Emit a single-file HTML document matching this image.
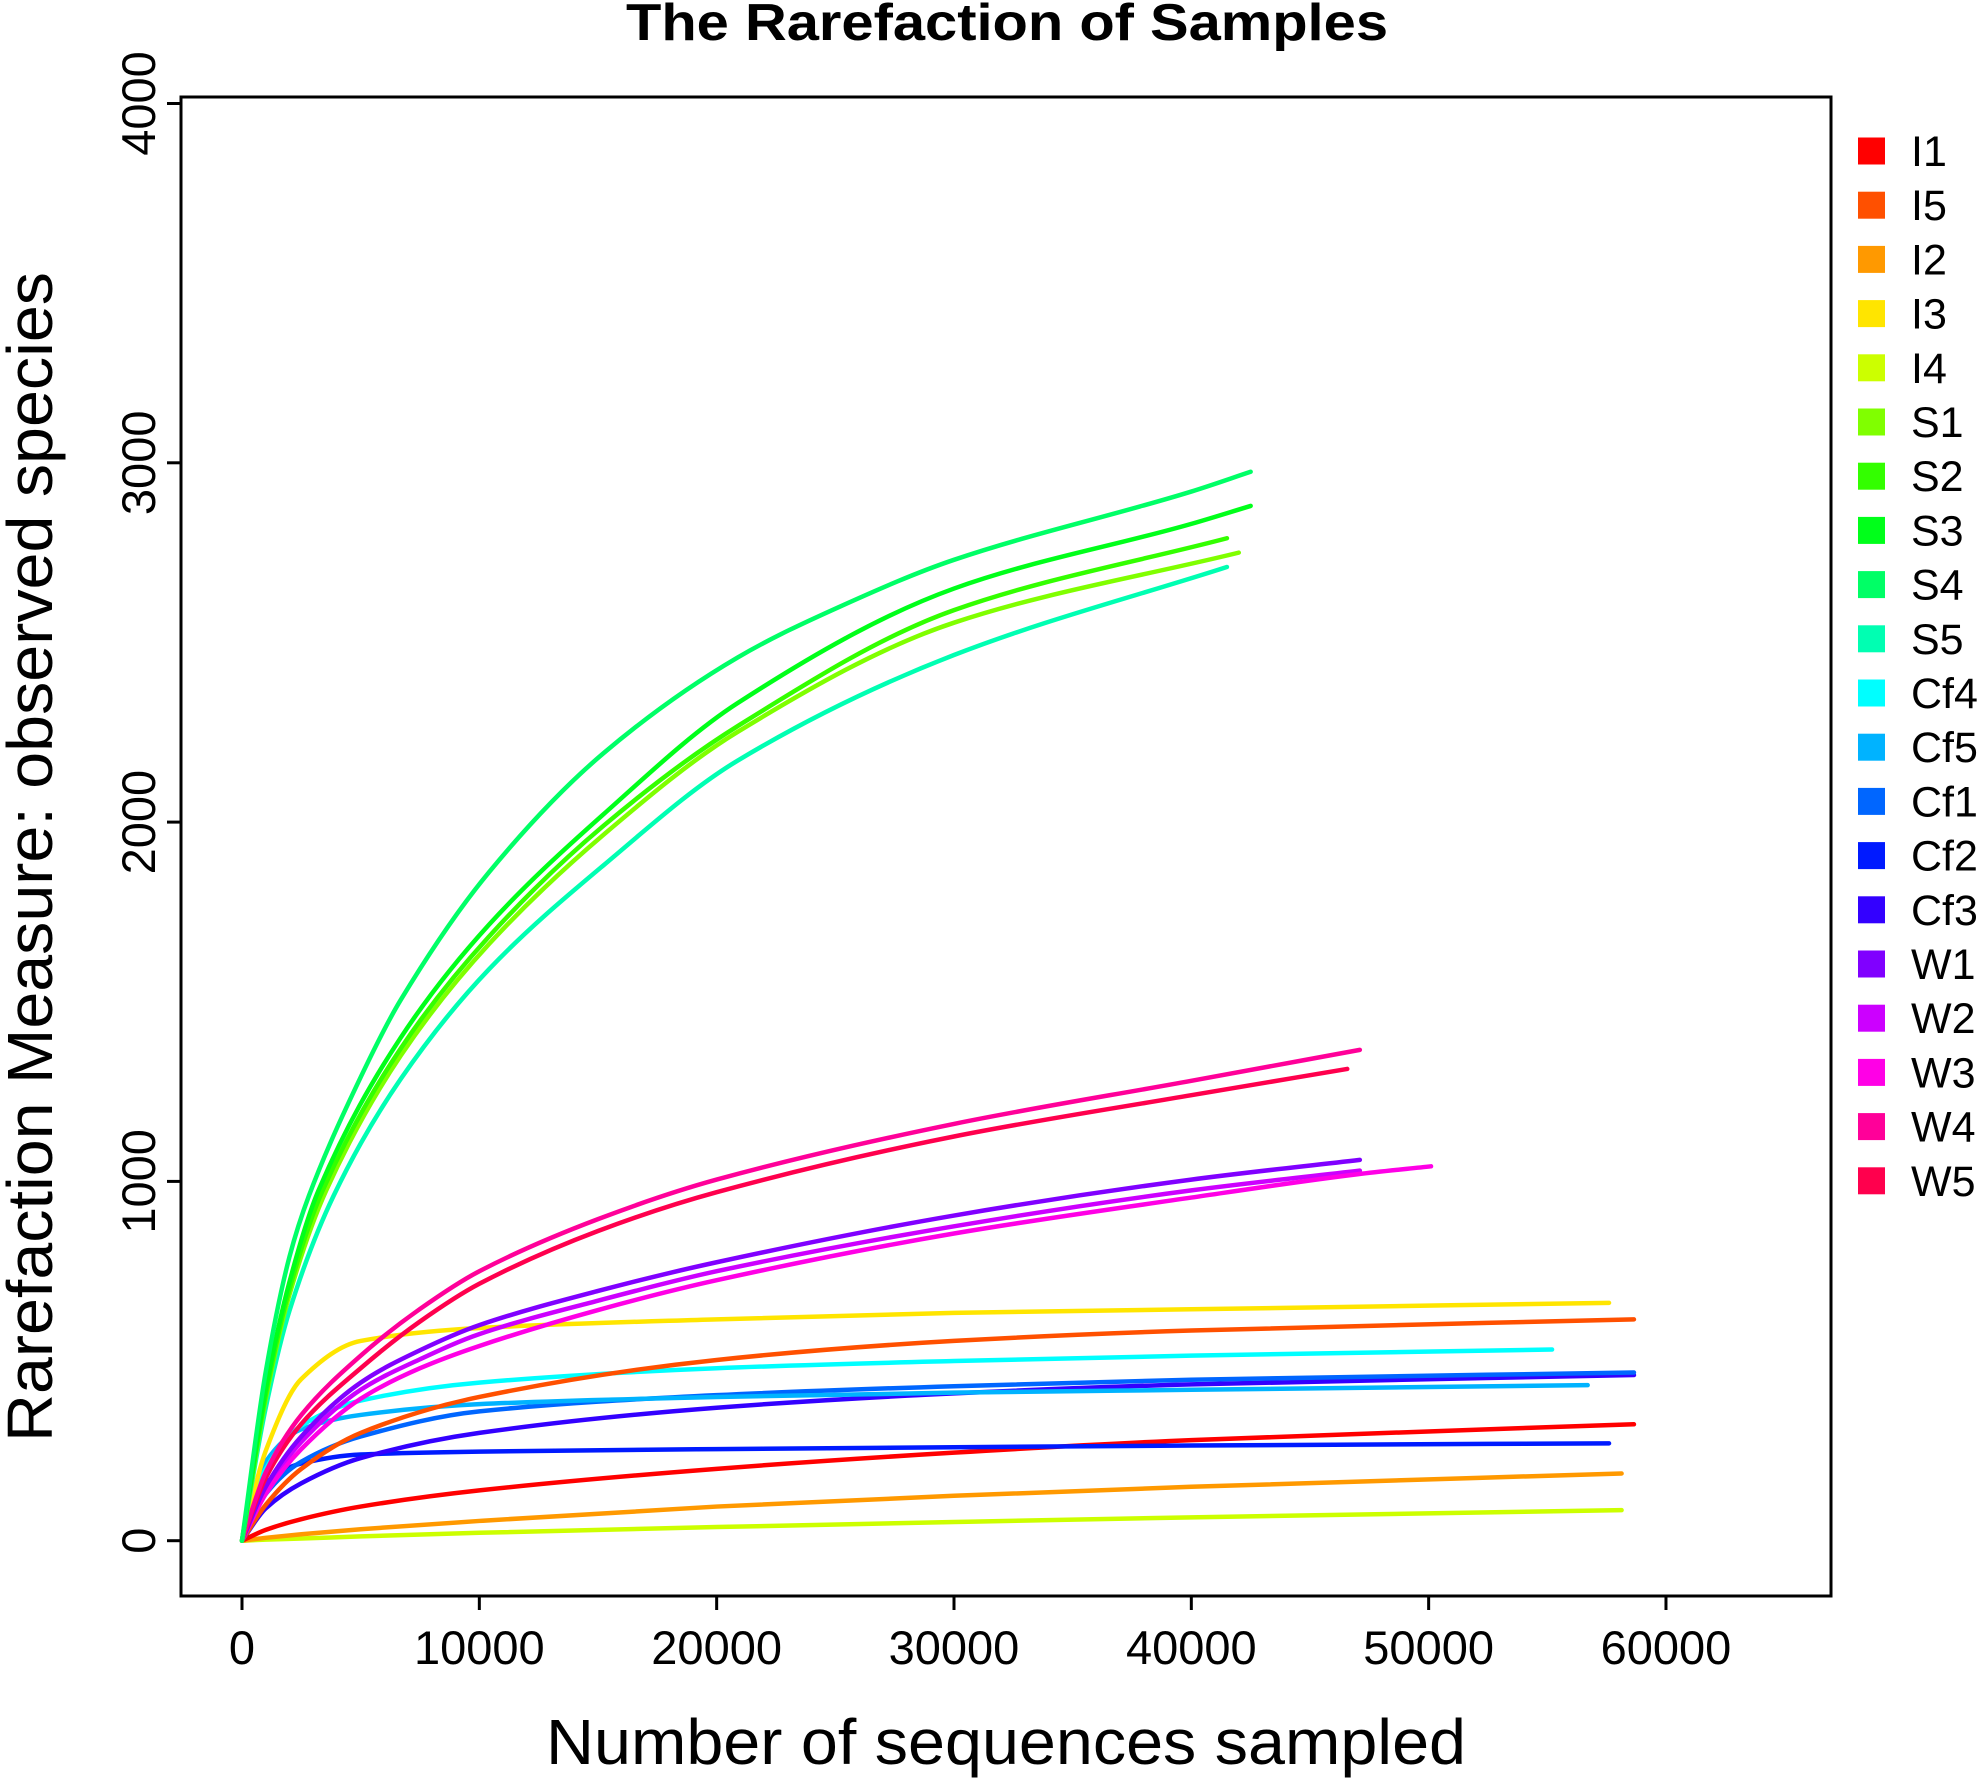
<!DOCTYPE html>
<html><head><meta charset="utf-8"><style>
html,body{margin:0;padding:0;background:#fff}
svg{display:block;font-family:"Liberation Sans",sans-serif}
</style></head><body>
<svg id="chart" width="1982" height="1779" viewBox="0 0 1982 1779" xmlns="http://www.w3.org/2000/svg">
<text x="1007" y="40" font-size="52" font-weight="bold" text-anchor="middle" textLength="762" lengthAdjust="spacingAndGlyphs">The Rarefaction of Samples</text>
<rect x="181" y="97" width="1650" height="1499" fill="none" stroke="#000" stroke-width="3"/>
<text x="1006" y="1764" font-size="64" text-anchor="middle" textLength="920" lengthAdjust="spacingAndGlyphs">Number of sequences sampled</text>
<text transform="translate(52,857) rotate(-90)" font-size="64" text-anchor="middle" textLength="1170" lengthAdjust="spacingAndGlyphs">Rarefaction Measure: observed species</text>
<g id="axes"></g>
<g id="series"></g>
<g id="legend"></g>
</svg>
<script>
const names=["I1","I5","I2","I3","I4","S1","S2","S3","S4","S5","Cf4","Cf5","Cf1","Cf2","Cf3","W1","W2","W3","W4","W5"];
const colors=["#ff0000","#ff5000","#ff9900","#ffe500","#ccff00","#80ff00","#33ff00","#00ff1a","#00ff66","#00ffb2","#00ffff","#00b3ff","#0066ff","#001aff","#3300ff","#8000ff","#cc00ff","#ff00e6","#ff0099","#ff004d"];
const xTicks=[0,10000,20000,30000,40000,50000,60000];
const yTicks=[0,1000,2000,3000,4000];
const g=[0,1000,2500,5000,10000,20000,30000,40000];
const gw=[0,1000,2500,5000,7500,10000,15000,20000,30000,40000];
const xsI1=g.concat([58650]), ysI1=[0,30,60,95,140,200,245,280,324];
const xsI5=g.concat([58650]), ysI5=[0,100,200,300,400,503,556,585,616];
const xsI2=g.concat([58130]), ysI2=[0,8,18,32,55,95,125,150,187];
const xsI3=g.concat([57600]), ysI3=[0,250,450,556,592,616,634,644,662];
const xsI4=g.concat([58130]), ysI4=[0,3,6,12,22,38,52,65,85];
const xsS1=[0,1000,2000,3550,6687,10400,15236,20880,30000,42000], ysS1=[0,395,685,975,1350,1660,1965,2251,2555,2750];
const xsS2=[0,1000,2000,3400,6687,10400,15236,20880,30000,41500], ysS2=[0,405,700,975,1370,1681,1990,2267,2590,2790];
const xsS3=[0,1000,2000,3225,6687,10400,15236,20880,30000,40000,42500], ysS3=[0,420,720,975,1400,1714,2022,2331,2650,2830,2880];
const xsS4=[0,1000,2000,2819,5000,6687,10400,15236,20880,25200,30000,40000,42500], ysS4=[0,470,790,960,1290,1505,1860,2192,2458,2600,2730,2920,2975];
const xsS5=[0,1000,2000,3860,6687,10400,15236,20880,30000,41500], ysS5=[0,370,640,960,1285,1590,1880,2171,2465,2710];
const xsCf4=g.concat([55200]), ysCf4=[0,200,320,390,440,480,500,515,532];
const xsCf5=g.concat([56700]), ysCf5=[0,220,310,350,380,400,412,420,433];
const xsCf1=g.concat([58650]), ysCf1=[0,130,220,290,360,405,430,448,468];
const xsCf2=g.concat([57600]), ysCf2=[0,160,215,240,248,255,260,265,271];
const xsCf3=g.concat([58650]), ysCf3=[0,90,160,230,300,370,410,435,461];
const xsW1=gw.concat([47100]), ysW1=[0,150,290,440,530,600,695,775,905,1005,1060];
const xsW2=gw.concat([47100]), ysW2=[0,140,275,420,505,575,668,750,875,975,1030];
const xsW3=gw.concat([47000,50100]), ysW3=[0,130,255,395,480,542,642,725,855,955,1020,1042];
const xsW4=gw.concat([47100]), ysW4=[0,190,350,515,645,750,895,1005,1160,1280,1366];
const xsW5=gw.concat([46570]), ysW5=[0,175,325,480,610,715,862,970,1125,1240,1313];
const seriesX=[xsI1,xsI5,xsI2,xsI3,xsI4,xsS1,xsS2,xsS3,xsS4,xsS5,xsCf4,xsCf5,xsCf1,xsCf2,xsCf3,xsW1,xsW2,xsW3,xsW4,xsW5];
const seriesY=[ysI1,ysI5,ysI2,ysI3,ysI4,ysS1,ysS2,ysS3,ysS4,ysS5,ysCf4,ysCf5,ysCf1,ysCf2,ysCf3,ysW1,ysW2,ysW3,ysW4,ysW5];
const NS="http://www.w3.org/2000/svg";
function sx(v){return 242+v*0.023733;}
function sy(v){return 1540.7-v*0.3593;}
function mk(tag,attrs,parent){const e=document.createElementNS(NS,tag);for(const k in attrs)e.setAttribute(k,attrs[k]);parent.appendChild(e);return e;}
const axes=document.getElementById('axes');
xTicks.forEach(t=>{
  const l=mk('line',{x1:sx(t),x2:sx(t),y1:1596,y2:1610,stroke:'#000','stroke-width':3},axes);
  
  
  const tx=mk('text',{x:sx(t),y:1664,'font-size':47,'text-anchor':'middle'},axes);
  
  
  tx.textContent=t;
});
yTicks.forEach(t=>{
  const l=mk('line',{x1:167,x2:181,y1:sy(t),y2:sy(t),stroke:'#000','stroke-width':3},axes);
  
  
  const tx=mk('text',{transform:`translate(155,${sy(t)}) rotate(-90)`,'font-size':47,'text-anchor':'middle'},axes);
  
  
  tx.textContent=t;
});
function monoPath(xs,ys){
  const n=xs.length,px=xs.map(sx),py=ys.map(sy);
  const d=[],m=[];
  for(let i=0;i<n-1;i++)d.push((py[i+1]-py[i])/(px[i+1]-px[i]));
  m[0]=d[0];m[n-1]=d[n-2];
  for(let i=1;i<n-1;i++){m[i]=(d[i-1]*d[i]<=0)?0:2/(1/d[i-1]+1/d[i]);}
  let s=`M${px[0]},${py[0]}`;
  for(let i=0;i<n-1;i++){const h=px[i+1]-px[i];
    s+=` C${px[i]+h/3},${py[i]+m[i]*h/3} ${px[i+1]-h/3},${py[i+1]-m[i+1]*h/3} ${px[i+1]},${py[i+1]}`;}
  return s;
}
const sg=document.getElementById('series');
const order=[4,2,0,13,14,12,11,10,1,3,16,17,15,19,18,9,5,6,7,8];
order.forEach(i=>{
  const p=mk('path',{d:monoPath(seriesX[i],seriesY[i]),fill:'none',stroke:colors[i],'stroke-width':4.5,'stroke-linecap':'round'},sg);
  
  
});
const lg=document.getElementById('legend');
names.forEach((n,i)=>{
  const y=151+i*54.2;
  const r=mk('rect',{x:1858,y:y-13.5,width:27,height:27,fill:colors[i]},lg);
  
  
  const t=mk('text',{x:1911,y:y+15,'font-size':43},lg);
  
  
  t.textContent=n;
});
</script>
</body></html>
